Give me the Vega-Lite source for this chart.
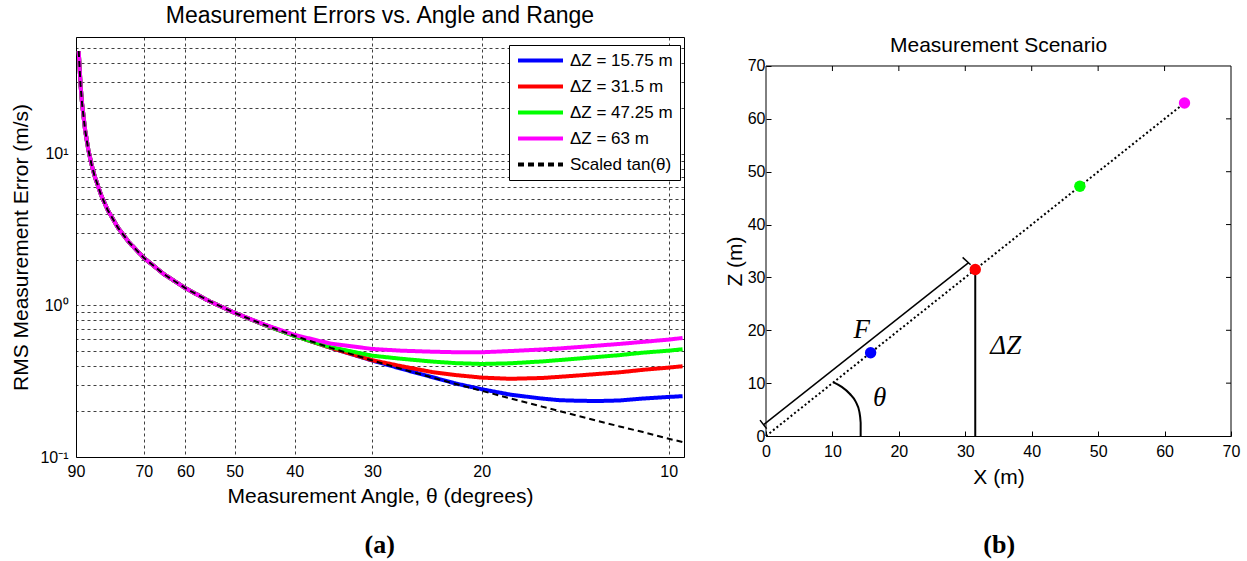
{
  "$schema": "https://vega.github.io/schema/vega-lite/v6.json",
  "background": "white",
  "padding": {"left": 10, "top": 4, "right": 5, "bottom": 0},
  "config": {
    "font": "Liberation Sans",
    "view": {"stroke": null},
    "axis": {"labelColor": "#000", "titleColor": "#000", "labelFontSize": 16, "titleFontSize": 21, "titleFontWeight": "normal", "domainColor": "#000", "tickColor": "#000", "labelFont": "Liberation Sans", "titleFont": "Liberation Sans"},
    "title": {"fontSize": 21, "fontWeight": "normal", "color": "#000", "font": "Liberation Sans"},
    "concat": {"spacing": 32}
  },
  "resolve": {"scale": {"color": "independent", "strokeDash": "independent"}, "legend": {"color": "independent", "strokeDash": "independent"}},
  "hconcat": [
    {
      "width": 608,
      "height": 420,
      "title": {"text": "Measurement Errors vs. Angle and Range", "offset": 9, "fontSize": 23},
      "view": {"stroke": "#000", "strokeWidth": 1},
      "layer": [
        {
          "data": {"values": [
            {"theta": 89.1, "err": 47.7, "series": "ΔZ = 15.75 m"}, {"theta": 88.5, "err": 28.6, "series": "ΔZ = 15.75 m"}, {"theta": 88, "err": 21.5, "series": "ΔZ = 15.75 m"}, {"theta": 87, "err": 14.3, "series": "ΔZ = 15.75 m"}, {"theta": 86, "err": 10.7, "series": "ΔZ = 15.75 m"}, {"theta": 85, "err": 8.57, "series": "ΔZ = 15.75 m"}, {"theta": 84, "err": 7.14, "series": "ΔZ = 15.75 m"}, {"theta": 82, "err": 5.34, "series": "ΔZ = 15.75 m"}, {"theta": 80, "err": 4.25, "series": "ΔZ = 15.75 m"}, {"theta": 77, "err": 3.25, "series": "ΔZ = 15.75 m"}, {"theta": 74, "err": 2.62, "series": "ΔZ = 15.75 m"}, {"theta": 70, "err": 2.06, "series": "ΔZ = 15.75 m"}, {"theta": 65, "err": 1.61, "series": "ΔZ = 15.75 m"}, {"theta": 60, "err": 1.3, "series": "ΔZ = 15.75 m"}, {"theta": 55, "err": 1.07, "series": "ΔZ = 15.75 m"}, {"theta": 50, "err": 0.894, "series": "ΔZ = 15.75 m"}, {"theta": 45, "err": 0.75, "series": "ΔZ = 15.75 m"}, {"theta": 40, "err": 0.629, "series": "ΔZ = 15.75 m"}, {"theta": 35, "err": 0.525, "series": "ΔZ = 15.75 m"}, {"theta": 30, "err": 0.433, "series": "ΔZ = 15.75 m"}, {"theta": 27, "err": 0.383, "series": "ΔZ = 15.75 m"}, {"theta": 24, "err": 0.336, "series": "ΔZ = 15.75 m"}, {"theta": 22, "err": 0.305, "series": "ΔZ = 15.75 m"}, {"theta": 20, "err": 0.28, "series": "ΔZ = 15.75 m"}, {"theta": 18, "err": 0.258, "series": "ΔZ = 15.75 m"}, {"theta": 16, "err": 0.243, "series": "ΔZ = 15.75 m"}, {"theta": 15, "err": 0.237, "series": "ΔZ = 15.75 m"}, {"theta": 14, "err": 0.235, "series": "ΔZ = 15.75 m"}, {"theta": 13, "err": 0.234, "series": "ΔZ = 15.75 m"}, {"theta": 12, "err": 0.236, "series": "ΔZ = 15.75 m"}, {"theta": 11, "err": 0.243, "series": "ΔZ = 15.75 m"}, {"theta": 10, "err": 0.249, "series": "ΔZ = 15.75 m"}, {"theta": 9.5, "err": 0.252, "series": "ΔZ = 15.75 m"},
            {"theta": 89.1, "err": 47.7, "series": "ΔZ = 31.5 m"}, {"theta": 88.5, "err": 28.6, "series": "ΔZ = 31.5 m"}, {"theta": 88, "err": 21.5, "series": "ΔZ = 31.5 m"}, {"theta": 87, "err": 14.3, "series": "ΔZ = 31.5 m"}, {"theta": 86, "err": 10.7, "series": "ΔZ = 31.5 m"}, {"theta": 85, "err": 8.57, "series": "ΔZ = 31.5 m"}, {"theta": 84, "err": 7.14, "series": "ΔZ = 31.5 m"}, {"theta": 82, "err": 5.34, "series": "ΔZ = 31.5 m"}, {"theta": 80, "err": 4.25, "series": "ΔZ = 31.5 m"}, {"theta": 77, "err": 3.25, "series": "ΔZ = 31.5 m"}, {"theta": 74, "err": 2.62, "series": "ΔZ = 31.5 m"}, {"theta": 70, "err": 2.06, "series": "ΔZ = 31.5 m"}, {"theta": 65, "err": 1.61, "series": "ΔZ = 31.5 m"}, {"theta": 60, "err": 1.3, "series": "ΔZ = 31.5 m"}, {"theta": 55, "err": 1.07, "series": "ΔZ = 31.5 m"}, {"theta": 50, "err": 0.894, "series": "ΔZ = 31.5 m"}, {"theta": 45, "err": 0.75, "series": "ΔZ = 31.5 m"}, {"theta": 40, "err": 0.629, "series": "ΔZ = 31.5 m"}, {"theta": 35, "err": 0.525, "series": "ΔZ = 31.5 m"}, {"theta": 30, "err": 0.435, "series": "ΔZ = 31.5 m"}, {"theta": 27, "err": 0.398, "series": "ΔZ = 31.5 m"}, {"theta": 24, "err": 0.363, "series": "ΔZ = 31.5 m"}, {"theta": 22, "err": 0.347, "series": "ΔZ = 31.5 m"}, {"theta": 20, "err": 0.334, "series": "ΔZ = 31.5 m"}, {"theta": 18, "err": 0.328, "series": "ΔZ = 31.5 m"}, {"theta": 16, "err": 0.332, "series": "ΔZ = 31.5 m"}, {"theta": 15, "err": 0.338, "series": "ΔZ = 31.5 m"}, {"theta": 14, "err": 0.345, "series": "ΔZ = 31.5 m"}, {"theta": 12, "err": 0.362, "series": "ΔZ = 31.5 m"}, {"theta": 11, "err": 0.376, "series": "ΔZ = 31.5 m"}, {"theta": 10, "err": 0.389, "series": "ΔZ = 31.5 m"}, {"theta": 9.5, "err": 0.397, "series": "ΔZ = 31.5 m"},
            {"theta": 89.1, "err": 47.7, "series": "ΔZ = 47.25 m"}, {"theta": 88.5, "err": 28.6, "series": "ΔZ = 47.25 m"}, {"theta": 88, "err": 21.5, "series": "ΔZ = 47.25 m"}, {"theta": 87, "err": 14.3, "series": "ΔZ = 47.25 m"}, {"theta": 86, "err": 10.7, "series": "ΔZ = 47.25 m"}, {"theta": 85, "err": 8.57, "series": "ΔZ = 47.25 m"}, {"theta": 84, "err": 7.14, "series": "ΔZ = 47.25 m"}, {"theta": 82, "err": 5.34, "series": "ΔZ = 47.25 m"}, {"theta": 80, "err": 4.25, "series": "ΔZ = 47.25 m"}, {"theta": 77, "err": 3.25, "series": "ΔZ = 47.25 m"}, {"theta": 74, "err": 2.62, "series": "ΔZ = 47.25 m"}, {"theta": 70, "err": 2.06, "series": "ΔZ = 47.25 m"}, {"theta": 65, "err": 1.61, "series": "ΔZ = 47.25 m"}, {"theta": 60, "err": 1.3, "series": "ΔZ = 47.25 m"}, {"theta": 55, "err": 1.07, "series": "ΔZ = 47.25 m"}, {"theta": 50, "err": 0.894, "series": "ΔZ = 47.25 m"}, {"theta": 45, "err": 0.75, "series": "ΔZ = 47.25 m"}, {"theta": 40, "err": 0.628, "series": "ΔZ = 47.25 m"}, {"theta": 35, "err": 0.53, "series": "ΔZ = 47.25 m"}, {"theta": 30, "err": 0.466, "series": "ΔZ = 47.25 m"}, {"theta": 27, "err": 0.445, "series": "ΔZ = 47.25 m"}, {"theta": 24, "err": 0.426, "series": "ΔZ = 47.25 m"}, {"theta": 22, "err": 0.416, "series": "ΔZ = 47.25 m"}, {"theta": 20, "err": 0.411, "series": "ΔZ = 47.25 m"}, {"theta": 18, "err": 0.415, "series": "ΔZ = 47.25 m"}, {"theta": 16, "err": 0.427, "series": "ΔZ = 47.25 m"}, {"theta": 15, "err": 0.436, "series": "ΔZ = 47.25 m"}, {"theta": 14, "err": 0.446, "series": "ΔZ = 47.25 m"}, {"theta": 12, "err": 0.47, "series": "ΔZ = 47.25 m"}, {"theta": 11, "err": 0.488, "series": "ΔZ = 47.25 m"}, {"theta": 10, "err": 0.503, "series": "ΔZ = 47.25 m"}, {"theta": 9.5, "err": 0.514, "series": "ΔZ = 47.25 m"},
            {"theta": 89.1, "err": 47.7, "series": "ΔZ = 63 m"}, {"theta": 88.5, "err": 28.6, "series": "ΔZ = 63 m"}, {"theta": 88, "err": 21.5, "series": "ΔZ = 63 m"}, {"theta": 87, "err": 14.3, "series": "ΔZ = 63 m"}, {"theta": 86, "err": 10.7, "series": "ΔZ = 63 m"}, {"theta": 85, "err": 8.57, "series": "ΔZ = 63 m"}, {"theta": 84, "err": 7.14, "series": "ΔZ = 63 m"}, {"theta": 82, "err": 5.34, "series": "ΔZ = 63 m"}, {"theta": 80, "err": 4.25, "series": "ΔZ = 63 m"}, {"theta": 77, "err": 3.25, "series": "ΔZ = 63 m"}, {"theta": 74, "err": 2.62, "series": "ΔZ = 63 m"}, {"theta": 70, "err": 2.06, "series": "ΔZ = 63 m"}, {"theta": 65, "err": 1.61, "series": "ΔZ = 63 m"}, {"theta": 60, "err": 1.3, "series": "ΔZ = 63 m"}, {"theta": 55, "err": 1.07, "series": "ΔZ = 63 m"}, {"theta": 50, "err": 0.894, "series": "ΔZ = 63 m"}, {"theta": 45, "err": 0.755, "series": "ΔZ = 63 m"}, {"theta": 40, "err": 0.638, "series": "ΔZ = 63 m"}, {"theta": 35, "err": 0.56, "series": "ΔZ = 63 m"}, {"theta": 30, "err": 0.516, "series": "ΔZ = 63 m"}, {"theta": 27, "err": 0.503, "series": "ΔZ = 63 m"}, {"theta": 24, "err": 0.495, "series": "ΔZ = 63 m"}, {"theta": 22, "err": 0.491, "series": "ΔZ = 63 m"}, {"theta": 20, "err": 0.491, "series": "ΔZ = 63 m"}, {"theta": 18, "err": 0.5, "series": "ΔZ = 63 m"}, {"theta": 16, "err": 0.512, "series": "ΔZ = 63 m"}, {"theta": 15, "err": 0.52, "series": "ΔZ = 63 m"}, {"theta": 14, "err": 0.531, "series": "ΔZ = 63 m"}, {"theta": 12, "err": 0.557, "series": "ΔZ = 63 m"}, {"theta": 11, "err": 0.575, "series": "ΔZ = 63 m"}, {"theta": 10, "err": 0.595, "series": "ΔZ = 63 m"}, {"theta": 9.5, "err": 0.61, "series": "ΔZ = 63 m"}
          ]},
          "mark": {"type": "line", "strokeWidth": 4},
          "encoding": {
            "x": {"field": "theta", "type": "quantitative",
                  "scale": {"type": "log", "domain": [9.45, 90], "reverse": true, "nice": false},
                  "axis": {"title": "Measurement Angle, θ (degrees)", "values": [90, 70, 60, 50, 40, 30, 20, 10], "format": "d", "grid": true, "gridColor": "#000", "gridDash": [3, 3], "gridOpacity": 0.75, "ticks": false, "domain": false, "labelPadding": 6, "titlePadding": 6, "labelOverlap": false, "labelFlush": false}},
            "y": {"field": "err", "type": "quantitative",
                  "scale": {"type": "log", "domain": [0.1, 59], "nice": false},
                  "axis": {"title": "RMS Measurement Error (m/s)", "values": [0.1, 0.2, 0.3, 0.4, 0.5, 0.6, 0.7, 0.8, 0.9, 1, 2, 3, 4, 5, 6, 7, 8, 9, 10, 20, 30, 40, 50], "labelExpr": "datum.value == 0.1 ? '10⁻¹' : datum.value == 1 ? '10⁰' : datum.value == 10 ? '10¹' : ''", "grid": true, "gridColor": "#000", "gridDash": [3, 3], "gridOpacity": 0.75, "ticks": false, "domain": false, "labelPadding": 8, "titlePadding": 8, "labelOverlap": false, "labelFlush": false}},
            "color": {"field": "series", "type": "nominal",
                      "scale": {"domain": ["ΔZ = 15.75 m", "ΔZ = 31.5 m", "ΔZ = 47.25 m", "ΔZ = 63 m", "Scaled tan(θ)"], "range": ["#0000ff", "#ff0000", "#00ff00", "#ff00ff", "#000000"]},
                      "legend": {"title": null, "orient": "none", "legendX": 433, "legendY": 8, "strokeColor": "#000", "fillColor": "#fff", "padding": 7, "labelFontSize": 17, "labelColor": "#000", "symbolSize": 2025, "symbolStrokeWidth": 4, "clipHeight": 17, "rowPadding": 8, "labelOffset": 5, "symbolType": "stroke", "labelLimit": 300}},
            "strokeDash": {"field": "series", "type": "nominal",
                           "scale": {"domain": ["ΔZ = 15.75 m", "ΔZ = 31.5 m", "ΔZ = 47.25 m", "ΔZ = 63 m", "Scaled tan(θ)"], "range": [[1, 0], [1, 0], [1, 0], [1, 0], [6, 4]]}}
          }
        },
        {
          "data": {"values": [
            {"theta": 89.1, "err": 47.7, "series": "Scaled tan(θ)"}, {"theta": 88.5, "err": 28.6, "series": "Scaled tan(θ)"}, {"theta": 88, "err": 21.5, "series": "Scaled tan(θ)"}, {"theta": 87, "err": 14.3, "series": "Scaled tan(θ)"}, {"theta": 86, "err": 10.7, "series": "Scaled tan(θ)"}, {"theta": 85, "err": 8.57, "series": "Scaled tan(θ)"}, {"theta": 84, "err": 7.14, "series": "Scaled tan(θ)"}, {"theta": 82, "err": 5.34, "series": "Scaled tan(θ)"}, {"theta": 80, "err": 4.25, "series": "Scaled tan(θ)"}, {"theta": 77, "err": 3.25, "series": "Scaled tan(θ)"}, {"theta": 74, "err": 2.62, "series": "Scaled tan(θ)"}, {"theta": 70, "err": 2.06, "series": "Scaled tan(θ)"}, {"theta": 65, "err": 1.61, "series": "Scaled tan(θ)"}, {"theta": 60, "err": 1.3, "series": "Scaled tan(θ)"}, {"theta": 55, "err": 1.07, "series": "Scaled tan(θ)"}, {"theta": 50, "err": 0.894, "series": "Scaled tan(θ)"}, {"theta": 45, "err": 0.75, "series": "Scaled tan(θ)"}, {"theta": 40, "err": 0.629, "series": "Scaled tan(θ)"}, {"theta": 35, "err": 0.525, "series": "Scaled tan(θ)"}, {"theta": 30, "err": 0.433, "series": "Scaled tan(θ)"}, {"theta": 27, "err": 0.382, "series": "Scaled tan(θ)"}, {"theta": 24, "err": 0.334, "series": "Scaled tan(θ)"}, {"theta": 22, "err": 0.303, "series": "Scaled tan(θ)"}, {"theta": 20, "err": 0.273, "series": "Scaled tan(θ)"}, {"theta": 18, "err": 0.244, "series": "Scaled tan(θ)"}, {"theta": 16, "err": 0.215, "series": "Scaled tan(θ)"}, {"theta": 15, "err": 0.201, "series": "Scaled tan(θ)"}, {"theta": 14, "err": 0.187, "series": "Scaled tan(θ)"}, {"theta": 12, "err": 0.159, "series": "Scaled tan(θ)"}, {"theta": 11, "err": 0.146, "series": "Scaled tan(θ)"}, {"theta": 10, "err": 0.132, "series": "Scaled tan(θ)"}, {"theta": 9.5, "err": 0.1255, "series": "Scaled tan(θ)"}
          ]},
          "mark": {"type": "line", "strokeWidth": 2},
          "encoding": {
            "x": {"field": "theta", "type": "quantitative"},
            "y": {"field": "err", "type": "quantitative"},
            "color": {"field": "series", "type": "nominal"},
            "strokeDash": {"field": "series", "type": "nominal"}
          }
        },
        {
          "data": {"values": [{"label": "(a)", "theta": 29.2, "err": 0.0262}]},
          "mark": {"type": "text", "font": "Liberation Serif", "fontWeight": "bold", "fontSize": 26, "color": "#000"},
          "encoding": {
            "x": {"field": "theta", "type": "quantitative"},
            "y": {"field": "err", "type": "quantitative"},
            "text": {"field": "label"}
          }
        }
      ]
    },
    {
      "width": 465,
      "height": 399,
      "title": {"text": "Measurement Scenario", "offset": -19},
      "layer": [
        {
          "data": {"values": [{"x": 31.5, "y": 0}, {"x": 31.5, "y": 31.5}]},
          "mark": {"type": "line", "color": "#000", "strokeWidth": 2},
          "encoding": {
            "x": {"field": "x", "type": "quantitative", "scale": {"domain": [0, 70], "nice": false},
                  "axis": {"title": "X (m)", "values": [0, 10, 20, 30, 40, 50, 60, 70], "tickSize": -5, "grid": false, "domain": true, "labelPadding": 12, "titlePadding": 7, "labelFlush": false}},
            "y": {"field": "y", "type": "quantitative", "scale": {"domain": [0, 75.486], "nice": false},
                  "axis": {"title": "Z (m)", "values": [0, 10, 20, 30, 40, 50, 60, 70], "tickSize": -5, "grid": false, "domain": false, "labelPadding": 6, "titlePadding": 2, "titleY": 224, "labelFlush": false}}
          }
        },
        {
          "data": {"values": [{"edge": "left"}]},
          "mark": {"type": "rule", "color": "#000", "strokeWidth": 1},
          "encoding": {"x": {"datum": 0}, "y": {"datum": 0}, "y2": {"datum": 70}}
        },
        {
          "data": {"values": [{"edge": "right"}]},
          "mark": {"type": "rule", "color": "#000", "strokeWidth": 1},
          "encoding": {"x": {"datum": 70}, "y": {"datum": 0}, "y2": {"datum": 70}}
        },
        {
          "data": {"values": [{"edge": "top"}]},
          "mark": {"type": "rule", "color": "#000", "strokeWidth": 1},
          "encoding": {"x": {"datum": 0}, "x2": {"datum": 70}, "y": {"datum": 70}}
        },
        {
          "data": {"values": [{"t": 10}, {"t": 20}, {"t": 30}, {"t": 40}, {"t": 50}, {"t": 60}]},
          "mark": {"type": "rule", "color": "#000", "strokeWidth": 1},
          "encoding": {"x": {"field": "t", "type": "quantitative"}, "y": {"datum": 70}, "y2": {"datum": 69.05}}
        },
        {
          "data": {"values": [{"t": 10}, {"t": 20}, {"t": 30}, {"t": 40}, {"t": 50}, {"t": 60}]},
          "mark": {"type": "rule", "color": "#000", "strokeWidth": 1},
          "encoding": {"y": {"field": "t", "type": "quantitative"}, "x": {"datum": 70}, "x2": {"datum": 69.25}}
        },
        {
          "data": {"values": [{"x": 0, "y": 0}, {"x": 63, "y": 63}]},
          "mark": {"type": "line", "color": "#000", "strokeWidth": 2, "strokeDash": [2, 2.5]},
          "encoding": {"x": {"field": "x", "type": "quantitative"}, "y": {"field": "y", "type": "quantitative"}}
        },
        {
          "data": {"values": [{"x": -0.3, "y": 2.2}, {"x": 30.5, "y": 32.8}]},
          "mark": {"type": "line", "color": "#000", "strokeWidth": 1.5},
          "encoding": {"x": {"field": "x", "type": "quantitative"}, "y": {"field": "y", "type": "quantitative"}}
        },
        {
          "data": {"values": [{"x": 29.6, "y": 33.8, "end": "top"}, {"x": 30.8, "y": 32.4, "end": "top"}, {"x": -0.9, "y": 3.0, "end": "bottom"}, {"x": 0.1, "y": 1.4, "end": "bottom"}]},
          "mark": {"type": "line", "color": "#000", "strokeWidth": 1.5},
          "encoding": {"x": {"field": "x", "type": "quantitative"}, "y": {"field": "y", "type": "quantitative"}, "detail": {"field": "end"}}
        },
        {
          "data": {"values": [{"x": 14.25, "y": 0}, {"x": 14.25, "y": 2.5}, {"x": 14.05, "y": 4.6}, {"x": 13.5, "y": 6.5}, {"x": 12.6, "y": 8.0}, {"x": 11.4, "y": 9.3}, {"x": 10.1, "y": 10.2}]},
          "mark": {"type": "line", "color": "#000", "strokeWidth": 2, "interpolate": "monotone"},
          "encoding": {"x": {"field": "x", "type": "quantitative"}, "y": {"field": "y", "type": "quantitative"}, "order": {"field": "y"}}
        },
        {
          "data": {"values": [{"x": 15.75, "y": 15.75, "series": "ΔZ = 15.75 m"}, {"x": 31.5, "y": 31.5, "series": "ΔZ = 31.5 m"}, {"x": 47.25, "y": 47.25, "series": "ΔZ = 47.25 m"}, {"x": 63, "y": 63, "series": "ΔZ = 63 m"}]},
          "mark": {"type": "point", "filled": true, "size": 130, "opacity": 1},
          "encoding": {
            "x": {"field": "x", "type": "quantitative"},
            "y": {"field": "y", "type": "quantitative"},
            "color": {"field": "series", "type": "nominal", "scale": {"domain": ["ΔZ = 15.75 m", "ΔZ = 31.5 m", "ΔZ = 47.25 m", "ΔZ = 63 m"], "range": ["#0000ff", "#ff0000", "#00ff00", "#ff00ff"]}, "legend": null}
          }
        },
        {
          "data": {"values": [{"label": "F", "x": 14.4, "y": 20.0}, {"label": "ΔZ", "x": 36.1, "y": 17.0}, {"label": "θ", "x": 17.1, "y": 7.2}]},
          "mark": {"type": "text", "font": "Liberation Serif", "fontStyle": "italic", "fontSize": 27, "color": "#000"},
          "encoding": {"x": {"field": "x", "type": "quantitative"}, "y": {"field": "y", "type": "quantitative"}, "text": {"field": "label"}}
        },
        {
          "data": {"values": [{"label": "(b)", "x": 35.1, "y": -20.6}]},
          "mark": {"type": "text", "font": "Liberation Serif", "fontWeight": "bold", "fontSize": 26, "color": "#000"},
          "encoding": {"x": {"field": "x", "type": "quantitative"}, "y": {"field": "y", "type": "quantitative"}, "text": {"field": "label"}}
        }
      ]
    }
  ]
}
